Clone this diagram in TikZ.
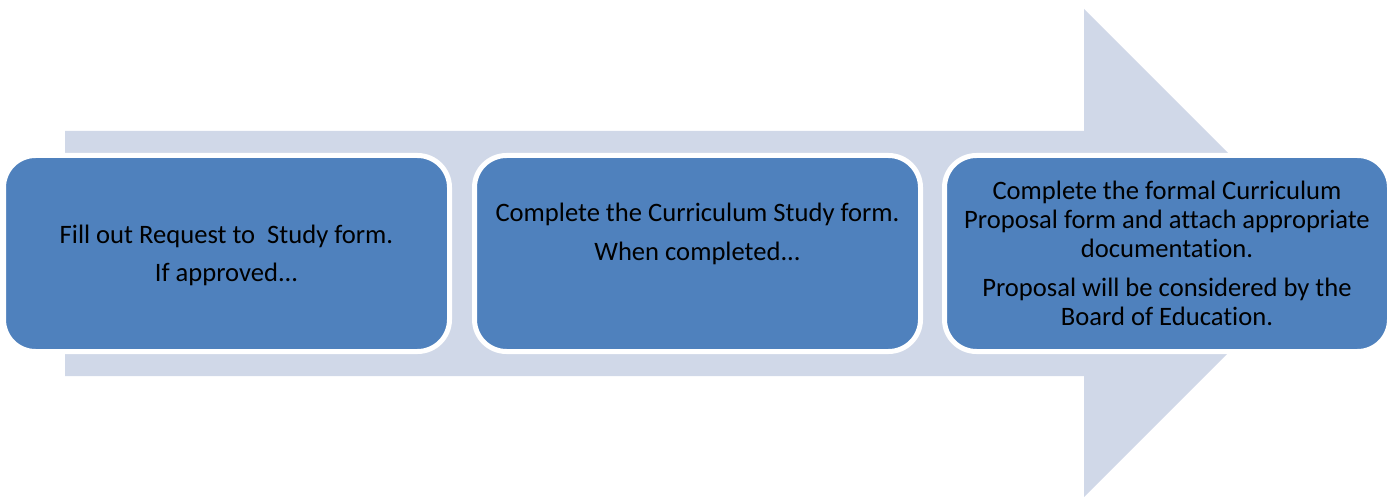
\documentclass[tikz,border=0pt]{standalone}
\usepackage{fontspec}
\setmainfont{Carlito}[Ligatures=NoCommon]
\definecolor{stepblue}{HTML}{4F81BD}
\definecolor{arrowgrey}{HTML}{D0D8E8}
\tikzset{
  stepbox/.style={draw=white, line width=5pt, fill=stepblue, rounded corners=32pt},
  steptext/.style={align=center, font=\fontsize{26.6}{29}\selectfont, text=black, anchor=base, inner sep=0pt},
}
\begin{document}
\begin{tikzpicture}[x=1pt, y=-1pt]
  \useasboundingbox (0,0) rectangle (1398,497);
  % the broad background arrow
  \fill[arrowgrey] (65,131) -- (1084,131) -- (1084,9) -- (1328,253)
    -- (1084,497) -- (1084,376) -- (65,376) -- cycle;
  % the three steps
  \draw[stepbox] (3.5,155.5) rectangle (449.5,351.5);
  \draw[stepbox] (474.5,155.5) rectangle (920.5,351.5);
  \draw[stepbox] (944.5,155.5) rectangle (1389.5,351.5);
  % texts, anchored on the baseline of their last line
  \node[steptext] (t1) at (226.5,282) {Fill out Request to\ \ Study form.\\[10pt]If approved...};
  \node[steptext] (t2) at (697.5,261) {Complete the Curriculum Study form.\\[10pt]When completed...};
  \node[steptext] (t3) at (1167,325) {Complete the formal Curriculum\\Proposal form and attach appropriate\\documentation.\\[10pt]Proposal will be considered by the\\Board of Education.};
\end{tikzpicture}
\end{document}
